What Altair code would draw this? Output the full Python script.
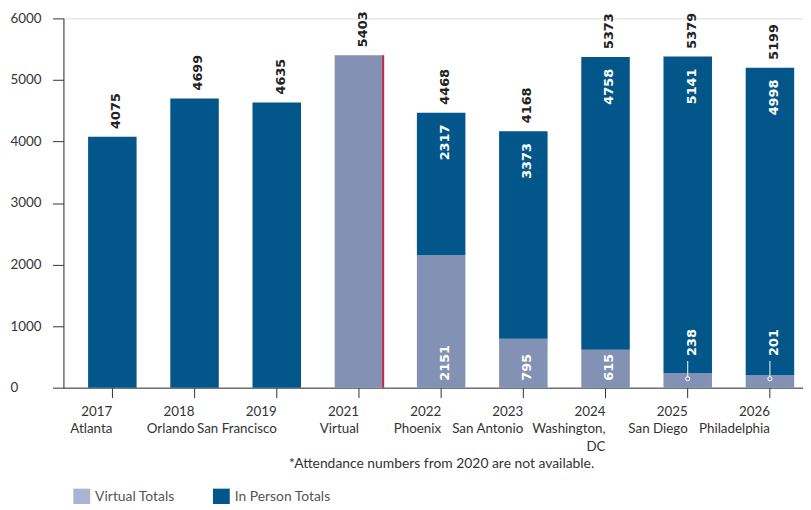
import altair as alt
import pandas as pd

# ---- data ----
categories = ["2017|Atlanta", "2018|Orlando", "2019|San Francisco", "2021|Virtual",
              "2022|Phoenix", "2023|San Antonio", "2024|Washington,|DC",
              "2025|San Diego", "2026|Philadelphia"]
virtual_totals = [0, 0, 0, 5403, 2151, 795, 615, 238, 201]
in_person_totals = [4075, 4699, 4635, 0, 2317, 3373, 4758, 5141, 4998]
totals = [4075, 4699, 4635, 5403, 4468, 4168, 5373, 5379, 5199]
series_names = ["Virtual Totals", "In Person Totals"]
bar_colors = ["#8391b4", "#02568a"]
swatch_colors = ["#aab4d0", "#02568a"]
y_ticks = [0, 1000, 2000, 3000, 4000, 5000, 6000]
footnote = "*Attendance numbers from 2020 are not available."

wide = pd.DataFrame({
    "cat": categories,
    "virtual": virtual_totals,
    "inperson": in_person_totals,
    "total": totals,
})
wide["zero"] = 0
wide["stacked"] = (wide["virtual"] > 0) & (wide["inperson"] > 0)
wide["small"] = wide["virtual"] < 500

rows = []
for c, v, p in zip(categories, virtual_totals, in_person_totals):
    rows.append({"cat": c, "series": series_names[0], "value": v, "ord": 0, "zero": 0})
    rows.append({"cat": c, "series": series_names[1], "value": p, "ord": 1, "zero": 0})
long = pd.DataFrame(rows)

FONT = "Lato"
NUMFONT = "DejaVu Sans"
NUMSIZE = 13

x_enc = alt.X(
    "cat:N",
    sort=categories,
    scale=alt.Scale(domain=categories, range=[0, 763], paddingInner=0.41, paddingOuter=0.3),
    axis=alt.Axis(
        title=footnote,
        labelExpr="split(datum.label, '|')",
        labelAngle=0,
        labelFont=FONT,
        labelFontSize=13.5,
        labelColor="#333333",
        labelLineHeight=17.5,
        labelPadding=14,
        tickSize=10,
        tickColor="#333333",
        domainColor="#333333",
        titleFont=FONT,
        titleFontSize=14,
        titleFontWeight="normal",
        titleColor="#333333",
        titlePadding=4,
    ),
)
x_plain = alt.X("cat:N", sort=categories)

y_scale = alt.Scale(domain=[0, 6000], nice=False)
y_axis = alt.Axis(
    values=y_ticks,
    format="d",
    title=None,
    grid=False,
    labelAlign="left",
    labelPadding=43,
    tickSize=11,
    labelFont=FONT,
    labelFontSize=13.5,
    labelColor="#333333",
    tickColor="#333333",
    domainColor="#333333",
)

bars = alt.Chart(long).mark_bar().encode(
    x=x_enc,
    y=alt.Y("sum(value):Q", scale=y_scale, axis=y_axis, stack="zero"),
    color=alt.Color("series:N", scale=alt.Scale(domain=series_names, range=bar_colors), legend=None),
    order=alt.Order("ord:Q"),
)

legend_layer = alt.Chart(long).mark_square(size=1, opacity=1).encode(
    x=x_plain,
    y=alt.Y("zero:Q"),
    fill=alt.Fill(
        "series:N",
        scale=alt.Scale(domain=series_names, range=swatch_colors),
        legend=alt.Legend(
            title=None,
            orient="none",
            direction="horizontal",
            legendX=10,
            legendY=475,
            symbolType="square",
            symbolSize=289,
            symbolStrokeWidth=0,
            labelFont=FONT,
            labelFontSize=14,
            labelColor="#555555",
            labelOffset=5,
            columnPadding=38,
        ),
    ),
)

base = alt.Chart(wide)

total_labels = base.mark_text(
    angle=270, align="left", baseline="middle", dx=8, dy=4,
    font=NUMFONT, fontWeight="bold", fontSize=NUMSIZE, color="#222222",
).encode(
    x=x_plain,
    y=alt.Y("total:Q"),
    text=alt.Text("total:Q"),
)

inperson_labels = base.transform_filter("datum.stacked").mark_text(
    angle=270, align="right", baseline="middle", dx=-12, dy=4,
    font=NUMFONT, fontWeight="bold", fontSize=NUMSIZE, color="white",
).encode(
    x=x_plain,
    y=alt.Y("total:Q"),
    text=alt.Text("inperson:Q"),
)

virtual_big = base.transform_filter("datum.stacked && !datum.small").mark_text(
    angle=270, align="left", baseline="middle", dx=7, dy=4,
    font=NUMFONT, fontWeight="bold", fontSize=NUMSIZE, color="white",
).encode(
    x=x_plain,
    y=alt.Y("zero:Q"),
    text=alt.Text("virtual:Q"),
)

virtual_small = base.transform_filter("datum.stacked && datum.small").mark_text(
    angle=270, align="left", baseline="middle", dx=32, dy=4,
    font=NUMFONT, fontWeight="bold", fontSize=NUMSIZE, color="white",
).encode(
    x=x_plain,
    y=alt.Y("zero:Q"),
    text=alt.Text("virtual:Q"),
)

leader = base.transform_filter("datum.stacked && datum.small").mark_rule(
    color="white", strokeWidth=1, yOffset=-11, y2Offset=-27,
).encode(
    x=x_plain,
    y=alt.Y("zero:Q"),
    y2=alt.Y2("zero"),
)

dot = base.transform_filter("datum.stacked && datum.small").mark_point(
    shape="circle", filled=False, color="white", size=18, strokeWidth=1, yOffset=-9, opacity=1,
).encode(
    x=x_plain,
    y=alt.Y("zero:Q"),
)

edge = base.transform_filter("datum.inperson == 0 && datum.virtual > 0").mark_rule(
    color="#c8283c", strokeWidth=2, xOffset=24.5,
).encode(
    x=x_plain,
    y=alt.Y("zero:Q"),
    y2=alt.Y2("total"),
)

chart = alt.layer(
    legend_layer, bars, edge, total_labels, inperson_labels, virtual_big, virtual_small, leader, dot
).properties(
    width=747,
    height=373,
    autosize=alt.AutoSizeParams(type="none"),
    padding={"left": 56, "top": 8, "right": 0, "bottom": 115},
).configure_view(stroke=None).configure(background="white")

chart.save("out.html", embed_options={"renderer": "svg", "actions": False})
